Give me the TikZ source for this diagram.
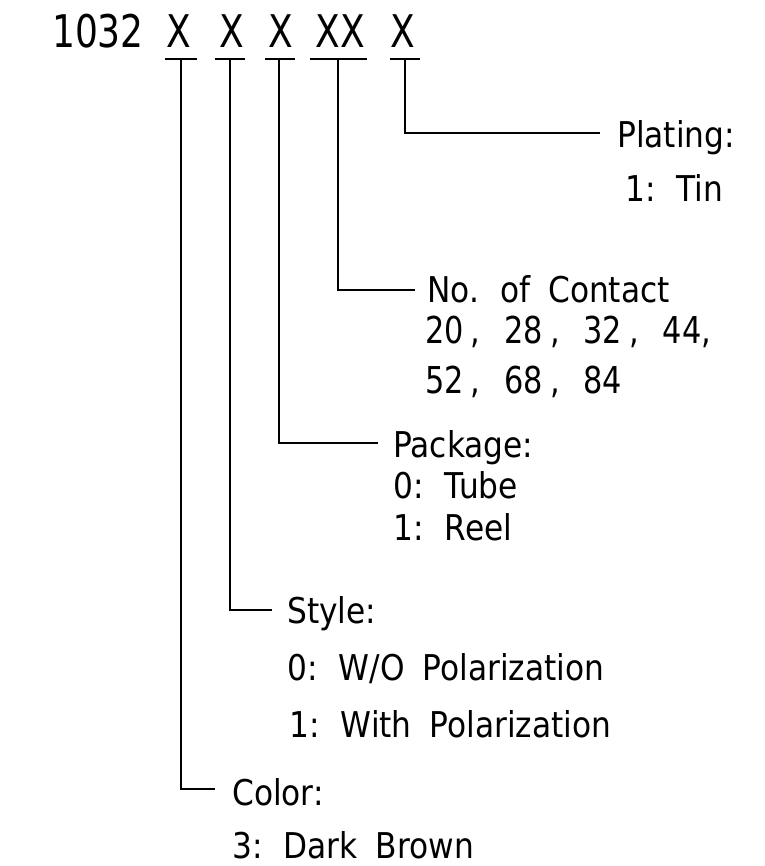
\documentclass[tikz,border=0pt]{standalone}
\usepackage{fontspec}
\setmainfont{DejaVu Sans}[FakeStretch=0.88, WordSpace=1.8]
\newfontfamily\topfont{DejaVu Sans}[FakeStretch=0.8]
\newfontfamily\numfont{DejaVu Sans}[FakeStretch=0.82]
\begin{document}
\begin{tikzpicture}[x=1pt,y=-1pt,
  lbl/.style={anchor=base west, inner sep=0pt, font=\fontsize{35.5}{40}\selectfont},
  nums/.style={anchor=base west, inner sep=0pt, font=\numfont\fontsize{37}{40}\selectfont},
  code/.style={anchor=base, inner sep=0pt, font=\topfont\fontsize{45}{50}\selectfont},
  ul/.style={line width=2.5pt},
  lead/.style={line width=2.5pt}]
\useasboundingbox[fill=white] (0,0) rectangle (764,866);

% top code
\node[code, anchor=base west] (n1032) at (52,48) {1032};
\node[code] (x1) at (179,48) {X};
\node[code] (x2) at (232,48) {X};
\node[code] (x3) at (281,48) {X};
\node[code] (x4) at (340,48) {XX};
\node[code] (x5) at (403,48) {X};

% underline end points
\coordinate (a1) at (165,59); \coordinate (b1) at (197,59);
\coordinate (a2) at (215,59); \coordinate (b2) at (245,59);
\coordinate (a3) at (265,59); \coordinate (b3) at (295,59);
\coordinate (a4) at (310,59); \coordinate (b4) at (367,59);
\coordinate (a5) at (390,59); \coordinate (b5) at (420,59);
\draw[ul] (a1) -- (b1);
\draw[ul] (a2) -- (b2);
\draw[ul] (a3) -- (b3);
\draw[ul] (a4) -- (b4);
\draw[ul] (a5) -- (b5);

% leader tops and ends
\coordinate (t1) at (181,59); \coordinate (e1) at (215,789);
\coordinate (t2) at (230,59); \coordinate (e2) at (272,610);
\coordinate (t3) at (279,59); \coordinate (e3) at (378,443);
\coordinate (t4) at (338,59); \coordinate (e4) at (415,290);
\coordinate (t5) at (405,59); \coordinate (e5) at (600,133);
\draw[lead] (t1) |- (e1);
\draw[lead] (t2) |- (e2);
\draw[lead] (t3) |- (e3);
\draw[lead] (t4) |- (e4);
\draw[lead] (t5) |- (e5);

% labels
\node[lbl] (plating) at (617,148) {Plating:};
\node[lbl] (tin) at (625,202) {1: Tin};

\node[lbl] (contact) at (427,302) {No. of Contact};
\node[nums] (nums1) at (425,343) {20\hspace{7pt},\hspace{24pt}28\hspace{7pt},\hspace{24pt}32\hspace{7pt},\hspace{24pt}44,};
\node[nums] (nums2) at (425,393) {52\hspace{7pt},\hspace{24pt}68\hspace{7pt},\hspace{24pt}84};

\node[lbl] (package) at (393,457) {Package:};
\node[lbl] (tube) at (393,498) {0: Tube};
\node[lbl] (reel) at (393,540) {1: Reel};

\node[lbl] (style) at (287,623) {Style:};
\node[lbl] (wo) at (287,680) {0: W/O Polarization};
\node[lbl] (with) at (289,737) {1: With Polarization};

\node[lbl] (color) at (232,805) {Color:};
\node[lbl] (brown) at (232,858) {3: Dark Brown};
\end{tikzpicture}
\end{document}
